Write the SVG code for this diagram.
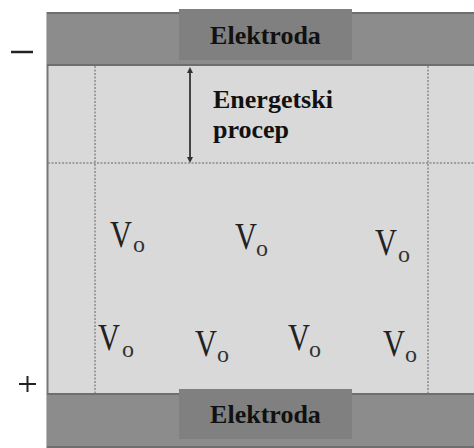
<svg xmlns="http://www.w3.org/2000/svg" width="474" height="448" viewBox="0 0 474 448">
<style>
.lbl{font-family:"Liberation Serif","DejaVu Serif","Times New Roman",serif;font-weight:bold;font-size:26px;fill:#111}
.v{font-family:"Liberation Serif","DejaVu Serif","Times New Roman",serif;font-size:38px;fill:#222}
.o{font-family:"Liberation Serif","DejaVu Serif","Times New Roman",serif;font-size:24px;fill:#333}
.dot{stroke:#8a8a8a;stroke-width:1.5;stroke-dasharray:2 1.5;fill:none}
.bar{fill:#8c8c8c}
.box{fill:#808080}
</style>
<defs>
<marker id="ah" viewBox="0 0 6 6" refX="3" refY="3" markerWidth="6" markerHeight="6" orient="auto-start-reverse" markerUnits="userSpaceOnUse">
<path d="M0,0 L6,3 L0,6 z" fill="#333"/>
</marker>
</defs>
<rect x="0" y="0" width="474" height="448" fill="#fff"/>
<rect x="47" y="66" width="427" height="327" fill="#d9d9d9"/>
<line x1="47.5" y1="12" x2="47.5" y2="448" stroke="#777" stroke-width="2"/>
<g id="top-electrode">
<rect class="bar" x="47" y="12" width="427" height="54"/>
<line x1="47" y1="13" x2="474" y2="13" stroke="#6e6e6e" stroke-width="2"/>
<line x1="47" y1="65" x2="474" y2="65" stroke="#6e6e6e" stroke-width="2"/>
<rect class="box" x="179" y="9" width="173" height="51"/>
<text class="lbl" x="265.5" y="44" text-anchor="middle">Elektroda</text>
</g>
<g id="bottom-electrode">
<rect class="bar" x="47" y="393" width="427" height="55"/>
<line x1="47" y1="394" x2="474" y2="394" stroke="#6e6e6e" stroke-width="2"/>
<line x1="47" y1="447" x2="474" y2="447" stroke="#6e6e6e" stroke-width="2"/>
<rect class="box" x="179" y="389" width="173" height="50"/>
<text class="lbl" x="265.5" y="423" text-anchor="middle">Elektroda</text>
</g>
<g id="connectors">
<line class="dot" x1="95" y1="66" x2="95" y2="393"/>
<line class="dot" x1="428" y1="66" x2="428" y2="393"/>
<line class="dot" x1="48" y1="163" x2="474" y2="163"/>
<line x1="190" y1="70" x2="190" y2="160" stroke="#444" stroke-width="2" marker-start="url(#ah)" marker-end="url(#ah)"/>
</g>
<g id="gap-label">
<text class="lbl" x="213" y="108">Energetski</text>
<text class="lbl" x="213" y="138">procep</text>
</g>
<g id="minus"><line x1="11" y1="52" x2="33" y2="52" stroke="#222" stroke-width="2.5"/></g>
<g id="plus"><line x1="19" y1="384" x2="36" y2="384" stroke="#222" stroke-width="2"/><line x1="27.5" y1="376" x2="27.5" y2="392" stroke="#222" stroke-width="2"/></g>
<g id="vo1"><text class="v" transform="translate(110,247) scale(0.8,1)">V</text><text class="o" x="133" y="252">o</text></g>
<g id="vo2"><text class="v" transform="translate(235,249) scale(0.8,1)">V</text><text class="o" x="256" y="256">o</text></g>
<g id="vo3"><text class="v" transform="translate(375,255) scale(0.8,1)">V</text><text class="o" x="398" y="262">o</text></g>
<g id="vo4"><text class="v" transform="translate(98,350) scale(0.8,1)">V</text><text class="o" x="122" y="357">o</text></g>
<g id="vo5"><text class="v" transform="translate(195,356) scale(0.8,1)">V</text><text class="o" x="217" y="362">o</text></g>
<g id="vo6"><text class="v" transform="translate(288,350) scale(0.8,1)">V</text><text class="o" x="309" y="357">o</text></g>
<g id="vo7"><text class="v" transform="translate(383,356) scale(0.8,1)">V</text><text class="o" x="405" y="362">o</text></g>
</svg>
